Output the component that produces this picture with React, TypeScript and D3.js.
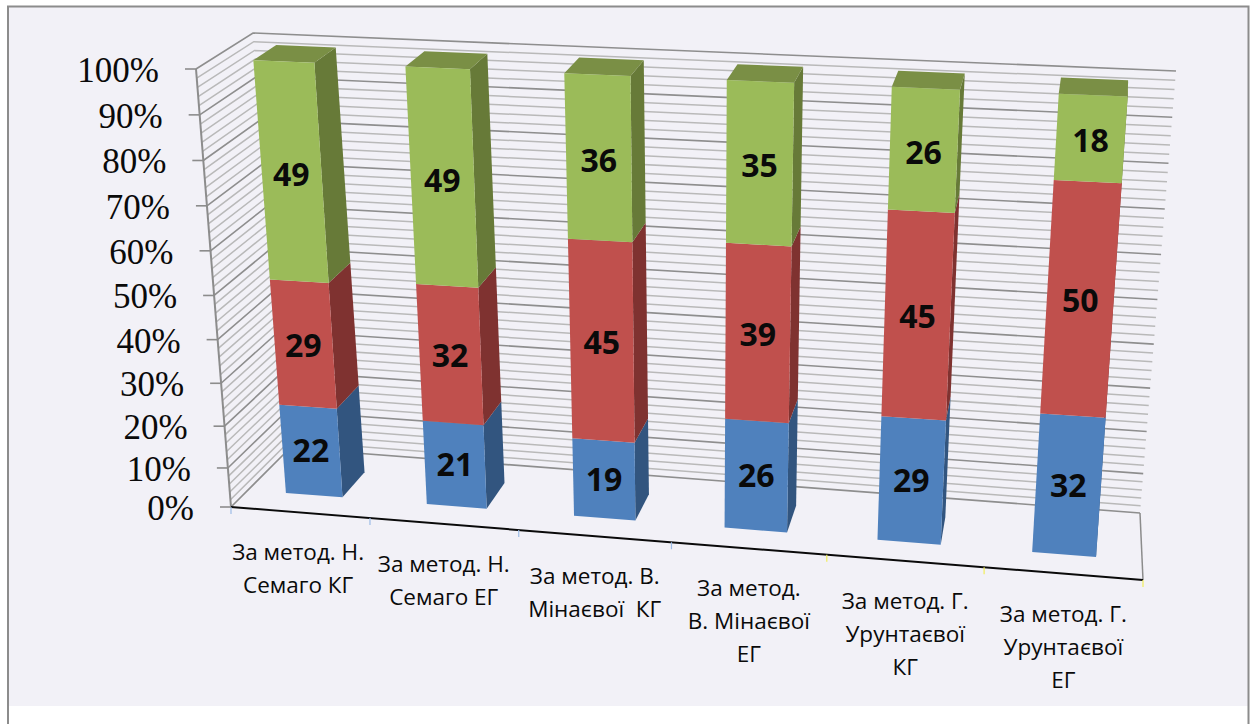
import { useEffect, useRef } from 'react'
import * as d3 from 'd3'

const categories = [
  ['За метод. Н.', 'Семаго КГ'],
  ['За метод. Н.', 'Семаго ЕГ'],
  ['За метод. В.', 'Мінаєвої  КГ'],
  ['За метод.', 'В. Мінаєвої', 'ЕГ'],
  ['За метод. Г.', 'Урунтаєвої', 'КГ'],
  ['За метод. Г.', 'Урунтаєвої', 'ЕГ']
]
const blueValues = [22, 21, 19, 26, 29, 32]
const redValues = [29, 32, 45, 39, 45, 50]
const greenValues = [49, 49, 36, 35, 26, 18]
const seriesKeys = ['blue', 'red', 'green']
const tickLabels = ['0%', '10%', '20%', '30%', '40%', '50%', '60%', '70%', '80%', '90%', '100%']

const faceColors: Record<string, { front: string; side: string; top: string; dy: number }> = {
  blue: { front: '#4f81bd', side: '#32557f', top: '#3f6797', dy: 10 },
  red: { front: '#c0504d', side: '#7f3230', top: '#9a403d', dy: 12 },
  green: { front: '#9bbb59', side: '#677a38', top: '#7a8f45', dy: 14 }
}

type Pt = [number, number]

// corners of the 3d box as they land on the page
const floorFrontLeft: Pt = [231, 507]
const floorFrontRight: Pt = [1143, 580]
const floorBackLeft: Pt = [290, 448]
const floorBackRight: Pt = [1140, 513]
const topFrontLeft: Pt = [196, 69]
const topFrontRight: Pt = [1178, 110]
const topBackLeft: Pt = [253, 33]
const topBackRight: Pt = [1176, 71]

const BAR_HALF = 0.205
const DEPTH_FRONT = 0.29
const DEPTH_BACK = 0.71

const x = d3.scalePow().exponent(1.05).domain([0, categories.length]).range([0, 1])
const y = d3.scalePow().exponent(1.05).domain([0, 1]).range([0, 1])

const mix = (a: Pt, b: Pt, t: number): Pt => [a[0] + (b[0] - a[0]) * t, a[1] + (b[1] - a[1]) * t]

function project(cat: number, value: number, depth: number): Pt {
  const u = x(cat)
  const v = y(value)
  const bottom = mix(mix(floorFrontLeft, floorFrontRight, u), mix(floorBackLeft, floorBackRight, u), depth)
  const top = mix(mix(topFrontLeft, topFrontRight, u), mix(topBackLeft, topBackRight, u), depth)
  return mix(bottom, top, v)
}

export default function App() {
  const svgRef = useRef<SVGSVGElement>(null)

  useEffect(() => {
    if (!svgRef.current) return
    const svg = d3.select(svgRef.current)
    svg.selectAll('*').remove()

    // chart area and border
    svg.append('rect').attr('x', 8).attr('y', 6).attr('width', 1240).attr('height', 700).attr('fill', '#f2f1f7')
    svg.append('path')
      .attr('d', 'M8,724V6.5H1248.5V724')
      .attr('fill', 'none')
      .attr('stroke', '#8c8c8c')
      .attr('stroke-width', 2)

    const line = d3.line<Pt>()
    const grid = svg.append('g').attr('fill', 'none')
    const n = categories.length

    // gridlines every 2%, heavier on the tens
    d3.range(0, 101, 2).forEach(p => {
      const major = p % 10 === 0
      grid.append('path')
        .attr('d', line([project(0, p / 100, 0), project(0, p / 100, 1), project(n, p / 100, 1)]))
        .attr('stroke', major ? '#8e8e8e' : '#b9b9b9')
        .attr('stroke-width', major ? 1.6 : 1.5)
    })

    // floor edges, axis line
    grid.append('path')
      .attr('d', line([project(0, 0, 0), project(0, 1, 0)]))
      .attr('stroke', '#8c8c8c')
      .attr('stroke-width', 2)
    grid.append('path')
      .attr('d', line([project(n, 0, 1), project(n, 0, 0)]))
      .attr('stroke', '#8c8c8c')
      .attr('stroke-width', 1.5)
    grid.append('path')
      .attr('d', line([project(0, 0, 0), project(n, 0, 0)]))
      .attr('stroke', '#0a0a0a')
      .attr('stroke-width', 2)

    d3.range(0, n + 1).forEach(i => {
      const [tx, ty] = project(i, 0, 0)
      grid.append('line')
        .attr('x1', tx).attr('x2', tx)
        .attr('y1', ty).attr('y2', ty + 7)
        .attr('stroke', i <= 3 ? '#9dbce6' : '#f1ee5a')
        .attr('stroke-width', 1.2)
    })

    // y axis ticks and labels
    tickLabels.forEach((label, i) => {
      const [tx, ty] = project(0, i / 10, 0)
      grid.append('line')
        .attr('x1', tx - 11).attr('x2', tx)
        .attr('y1', ty).attr('y2', ty)
        .attr('stroke', '#8c8c8c')
        .attr('stroke-width', 1.6)
      svg.append('text')
        .attr('x', tx - 37)
        .attr('y', ty + 13)
        .attr('text-anchor', 'end')
        .attr('font-family', '"Liberation Serif", serif')
        .attr('font-size', 35)
        .attr('fill', '#0a0a0a')
        .text(label)
    })

    // bars
    const rows = categories.map((_, i) => ({
      index: i,
      blue: blueValues[i],
      red: redValues[i],
      green: greenValues[i]
    }))
    const stacked = d3.stack<any>().keys(seriesKeys).offset(d3.stackOffsetExpand)(rows)
    const bars = svg.append('g')
    const labels = svg.append('g')

    stacked.forEach(layer => {
      const c = faceColors[layer.key]
      layer.forEach((d, i) => {
        const l = i + 0.5 - BAR_HALF
        const r = i + 0.5 + BAR_HALF
        const face = (pts: Pt[], fill: string) =>
          bars.append('path').attr('d', line(pts) + 'Z').attr('fill', fill)

        face([
          project(r, d[0], DEPTH_FRONT), project(r, d[0], DEPTH_BACK),
          project(r, d[1], DEPTH_BACK), project(r, d[1], DEPTH_FRONT)
        ], c.side)
        if (d[1] >= 0.999) {
          face([
            project(l, d[1], DEPTH_FRONT), project(r, d[1], DEPTH_FRONT),
            project(r, d[1], DEPTH_BACK), project(l, d[1], DEPTH_BACK)
          ], c.top)
        }
        face([
          project(l, d[0], DEPTH_FRONT), project(r, d[0], DEPTH_FRONT),
          project(r, d[1], DEPTH_FRONT), project(l, d[1], DEPTH_FRONT)
        ], c.front)
      })
    })

    stacked.forEach(layer => {
      const values = layer.key === 'blue' ? blueValues : layer.key === 'red' ? redValues : greenValues
      layer.forEach((d, i) => {
        const [lx, ly] = project(i + 0.5, (d[0] + d[1]) / 2, DEPTH_FRONT)
        labels.append('text')
          .attr('x', lx)
          .attr('y', ly + faceColors[layer.key].dy)
          .attr('text-anchor', 'middle')
          .attr('font-family', '"Open Sans", sans-serif')
          .attr('font-weight', 700)
          .attr('font-size', 32)
          .attr('fill', '#0a0a0a')
          .text(values[i])
      })
    })

    // category labels
    categories.forEach((lines, i) => {
      const [cx, cy] = project(i + 0.5, 0, 0)
      const t = svg.append('text')
        .attr('text-anchor', 'middle')
        .attr('font-family', '"Open Sans", sans-serif')
        .attr('font-size', 22.5)
        .attr('fill', '#0a0a0a')
        .style('white-space', 'pre')
      lines.forEach((txt, j) => {
        t.append('tspan')
          .attr('x', cx)
          .attr('y', cy + 48 + j * 33)
          .text(txt)
      })
    })
  }, [])

  return (
    <svg
      ref={svgRef}
      width={1255}
      height={724}
      style={{ position: 'absolute', left: 0, top: 0, background: '#fff' }}
    />
  )
}
